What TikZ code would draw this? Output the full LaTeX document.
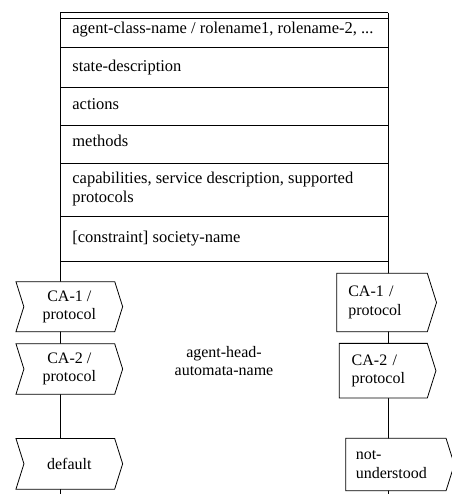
\documentclass[tikz,border=0pt]{standalone}
\usepackage{fontspec}
\setmainfont{Liberation Serif}
\usetikzlibrary{shapes.symbols}
\tikzset{
	rowtext/.style={anchor=base west, inner sep=0pt, font=\fontsize{16.5}{19}\selectfont},
	infrom/.style={signal, draw, fill=white, signal from=west, signal to=east, signal pointer angle=145, align=center, inner sep=0pt},
	outto/.style={signal, draw, fill=white, signal to=east, signal pointer angle=145, align=left, inner ysep=0pt}
}
\begin{document}
\begin{tikzpicture}[x=1pt, y=-1pt, line width=.8pt, font=\fontsize{16}{18.5}\selectfont]
	\def\xl{60}	\def\xr{388}	\def\xt{72}
	\useasboundingbox (0,0) rectangle (451,494);
	\coordinate (lt) at (\xl,12.7);	\coordinate (lb) at (\xl,494);
	\coordinate (rt) at (\xr,12.7);	\coordinate (rb) at (\xr,494);
	\draw (lt) -- (lb) (rt) -- (rb);
	\foreach \y in {12.7,18.3,47.3,87.3,125.7,163,216.7,261}
		\draw (\xl,\y) -- (\xr,\y);
	\node[rowtext] (clsname) at (\xt,34) {agent-class-name / rolename1, rolename-2, ...};
	\node[rowtext] (state) at (\xt,71.7) {state-description};
	\node[rowtext] (actions) at (\xt,109.3) {actions};
	\node[rowtext] (methods) at (\xt,147) {methods};
	\node[rowtext, align=left, anchor=north west] (capab) at (\xt,172) {capabilities, service description, supported\\protocols};
	\node[rowtext] (society) at (\xt,242) {[constraint] society-name};
	\node[align=center] (headname) at (224,361) {agent-head-\\automata-name};
	\node[infrom, minimum width=106.7, minimum height=50] (inca1) at (69.3,306.7) {CA-1 /\\protocol};
	\node[infrom, minimum width=106.7, minimum height=50.6] (inca2) at (69.3,369) {CA-2 /\\protocol};
	\node[infrom, minimum width=106.7, minimum height=50.7] (indef) at (69.3,463.8) {default};
	\node[outto, inner xsep=11.6, text width=67.4, minimum height=58.4] (outca1) at (382,302.5) {CA-1 /\\protocol};
	\node[outto, inner xsep=12.4, text width=63.2, minimum height=54.7] (outca2) at (383.3,370.7) {CA-2 /\\protocol};
	\node[outto, inner xsep=10, text width=80.3, minimum height=52.4] (outnu) at (395.9,464.5) {not-\\understood};
\end{tikzpicture}
\end{document}
